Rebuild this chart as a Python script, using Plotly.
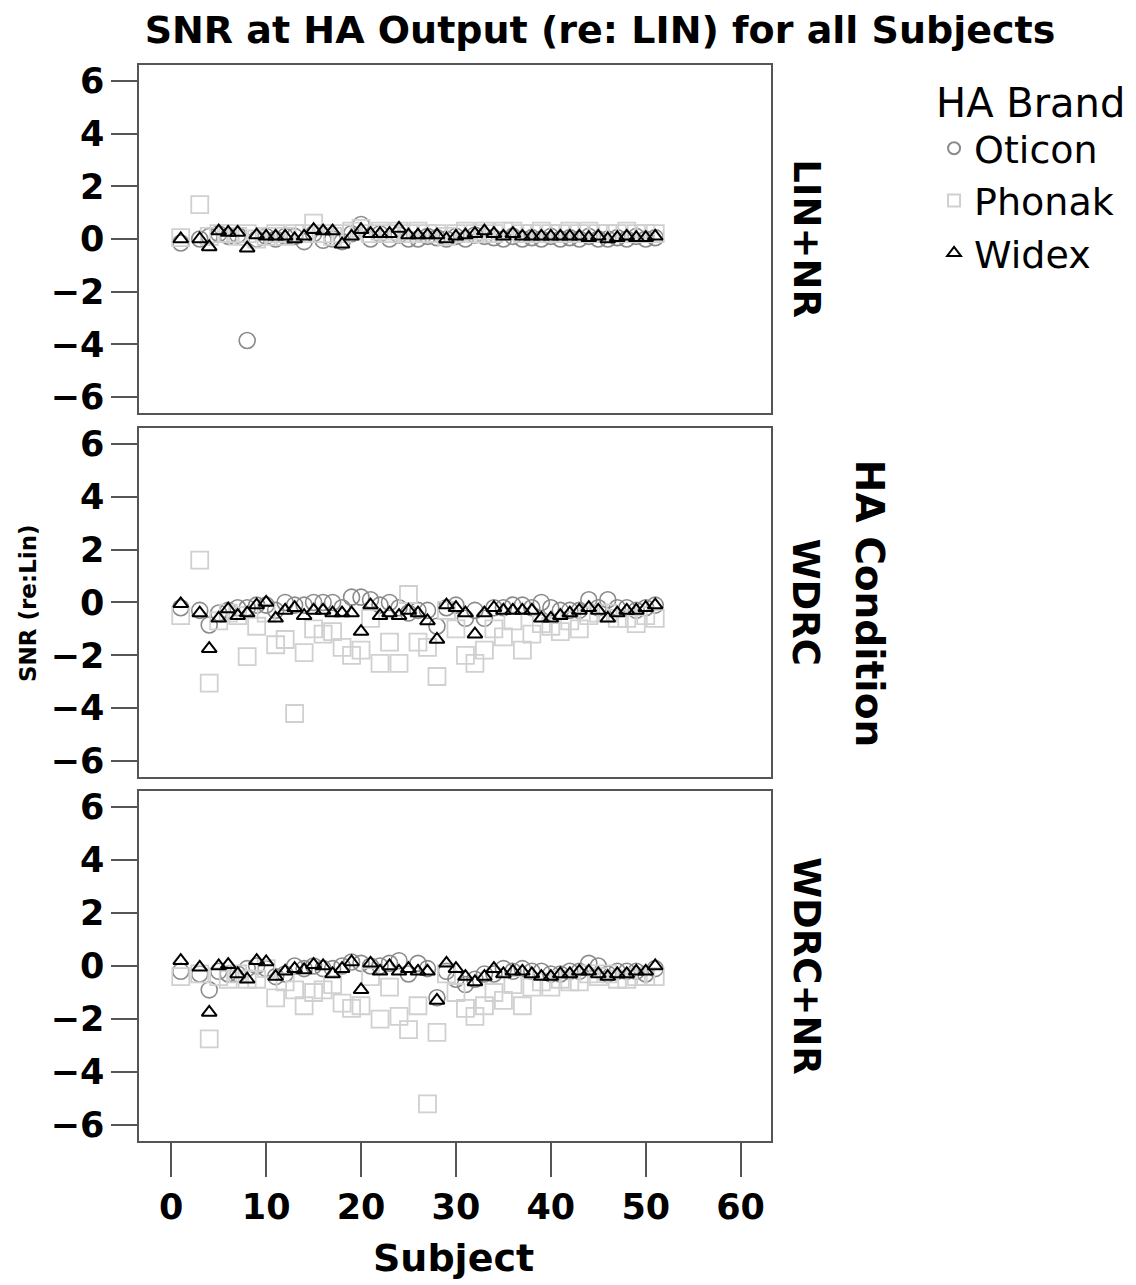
import plotly.graph_objects as go
from plotly.subplots import make_subplots

subjects = list(range(1, 52))
conditions = ["LIN+NR", "WDRC", "WDRC+NR"]
brands = ["Oticon", "Phonak", "Widex"]
N = None

# LIN+NR
lin_nr_oticon = [-0.15, N, 0.0, 0.1, 0.2, 0.1, 0.15, -3.85, 0.0, 0.1, 0.0, 0.1, 0.1, -0.1, 0.2, -0.05, 0.0, -0.1, 0.2, 0.55,
                 0.0, 0.2, 0.0, 0.15, 0.0, 0.0, 0.1, 0.05, 0.0, 0.1, 0.0, 0.15, 0.1, 0.05, 0.0, 0.1, 0.0, 0.05, 0.0, 0.1,
                 0.0, 0.05, 0.0, 0.1, 0.0, 0.0, 0.05, 0.0, 0.1, 0.0, 0.05]
lin_nr_phonak = [0.05, N, 1.3, 0.1, 0.2, 0.2, 0.1, 0.2, 0.0, 0.1, 0.2, 0.1, 0.2, 0.2, 0.6, 0.2, 0.1, 0.2, 0.3, 0.4,
                 0.2, 0.3, 0.2, 0.3, 0.2, 0.3, 0.2, 0.2, 0.1, 0.2, 0.3, 0.2, 0.3, 0.2, 0.3, 0.3, 0.2, 0.2, 0.3, 0.2,
                 0.2, 0.3, 0.2, 0.3, 0.2, 0.2, 0.2, 0.3, 0.2, 0.2, 0.2]
lin_nr_widex = [0.0, N, 0.0, -0.3, 0.3, 0.25, 0.25, -0.35, 0.15, 0.1, 0.1, 0.1, 0.0, 0.1, 0.35, 0.3, 0.3, -0.2, 0.1, 0.35,
                0.2, 0.2, 0.2, 0.4, 0.15, 0.15, 0.15, 0.15, 0.0, 0.1, 0.15, 0.2, 0.3, 0.2, 0.1, 0.2, 0.1, 0.1, 0.1, 0.1,
                0.1, 0.1, 0.1, 0.05, 0.1, 0.0, 0.05, 0.1, 0.05, 0.05, 0.1]

# WDRC
wdrc_oticon = [-0.2, N, -0.3, -0.85, -0.4, -0.3, -0.2, -0.2, -0.1, -0.1, -0.3, 0.0, -0.1, -0.1, 0.0, 0.0, 0.0, -0.2, 0.2, 0.2,
               0.1, -0.1, 0.0, -0.2, -0.4, -0.3, -0.3, -0.9, -0.2, -0.1, -0.6, -0.3, -0.6, -0.2, -0.2, -0.1, -0.1, -0.2, 0.0, -0.2,
               -0.3, -0.3, -0.3, 0.1, -0.2, 0.1, -0.2, -0.2, -0.3, -0.2, -0.1]
wdrc_phonak = [-0.5, N, 1.6, -3.05, -0.7, -0.4, -0.5, -2.05, -0.9, -0.4, -1.6, -1.4, -4.2, -1.9, -1.0, -1.2, -1.1, -1.7, -2.0, -1.8,
               -0.6, -2.3, -1.5, -2.3, 0.3, -1.5, -1.7, -2.8, -0.3, -1.0, -2.0, -2.3, -1.8, -1.0, -1.3, -0.7, -1.8, -1.2, -0.8, -0.9,
               -1.1, -0.7, -1.0, -0.5, -0.4, -0.4, -0.6, -0.6, -0.8, -0.5, -0.6]
wdrc_widex = [-0.05, N, -0.4, -1.75, -0.6, -0.25, -0.5, -0.4, -0.1, 0.0, -0.6, -0.3, -0.2, -0.5, -0.3, -0.3, -0.4, -0.4, -0.4, -1.1,
              -0.1, -0.5, -0.4, -0.5, -0.3, -0.4, -0.7, -1.4, -0.1, -0.2, -0.4, -1.2, -0.4, -0.2, -0.3, -0.3, -0.3, -0.3, -0.6, -0.6,
              -0.5, -0.4, -0.3, -0.2, -0.3, -0.6, -0.4, -0.3, -0.3, -0.2, -0.1]

# WDRC+NR
wdrc_nr_oticon = [-0.2, N, -0.3, -0.9, -0.2, -0.3, -0.3, -0.1, 0.0, -0.1, -0.4, -0.3, 0.0, -0.1, 0.0, -0.1, -0.1, 0.0, 0.15, 0.1,
                  0.0, 0.0, 0.1, 0.2, -0.3, 0.1, -0.1, -1.2, -0.2, -0.5, -0.7, -0.5, -0.3, -0.3, -0.1, -0.2, -0.1, -0.2, -0.2, -0.3,
                  -0.3, -0.2, -0.2, 0.1, 0.0, -0.3, -0.2, -0.2, -0.2, -0.3, -0.1]
wdrc_nr_phonak = [-0.4, N, -0.3, -2.75, -0.4, -0.5, -0.3, -0.5, -0.5, -0.1, -1.2, -0.6, -0.9, -1.5, -1.0, -0.9, -0.7, -1.4, -1.6, -1.5,
                  -0.4, -2.0, -0.8, -1.9, -2.4, -1.5, -5.2, -2.5, -0.3, -1.0, -1.6, -1.9, -1.5, -1.0, -1.3, -0.7, -1.5, -0.8, -0.6, -0.8,
                  -0.5, -0.6, -0.6, -0.3, -0.4, -0.3, -0.5, -0.5, -0.4, -0.4, -0.4]
wdrc_nr_widex = [0.2, N, -0.05, -1.75, 0.0, 0.05, -0.3, -0.5, 0.2, 0.15, -0.4, -0.2, -0.1, -0.15, 0.05, 0.0, -0.3, -0.1, 0.15, -0.9,
                 0.1, -0.2, 0.0, -0.2, -0.1, -0.2, -0.2, -1.3, 0.1, -0.1, -0.4, -0.6, -0.4, -0.1, -0.3, -0.2, -0.2, -0.3, -0.4, -0.4,
                 -0.3, -0.3, -0.2, -0.2, -0.3, -0.4, -0.3, -0.3, -0.2, -0.2, 0.0]

data = {
    "LIN+NR": [lin_nr_oticon, lin_nr_phonak, lin_nr_widex],
    "WDRC": [wdrc_oticon, wdrc_phonak, wdrc_widex],
    "WDRC+NR": [wdrc_nr_oticon, wdrc_nr_phonak, wdrc_nr_widex],
}

x_ticks = [0, 10, 20, 30, 40, 50, 60]
y_ticks = [-6, -4, -2, 0, 2, 4, 6]

styles = {
    "Oticon": dict(symbol="circle-open", color="#8a8a8a", size=16, line=dict(width=1.6, color="#8a8a8a")),
    "Phonak": dict(symbol="square-open", color="#d0d0d0", size=17, line=dict(width=1.8, color="#d0d0d0")),
    "Widex": dict(symbol="triangle-up-open", color="#000000", size=13, line=dict(width=2, color="#000000")),
}

FONT = "DejaVu Sans"
fig = make_subplots(rows=3, cols=1, shared_xaxes=True, vertical_spacing=0.015)

for r, cond in enumerate(conditions, start=1):
    for b, series in zip(brands, data[cond]):
        fig.add_trace(go.Scatter(
            x=subjects, y=series, mode="markers", name=b,
            legendgroup=b, showlegend=(r == 1),
            marker=styles[b],
        ), row=r, col=1)

domains = [[0.6766, 1.0], [0.3383, 0.6627], [0.0, 0.3253]]
axis_common = dict(showline=True, linecolor="#555555", linewidth=1.5, mirror=True,
                   showgrid=False, zeroline=False, ticks="outside", tickcolor="#555555", tickwidth=1.5)
tick_font = dict(family=FONT, size=35, color="#000", weight="bold")
for i in range(3):
    sx = "" if i == 0 else str(i + 1)
    fig.layout["yaxis" + sx].update(domain=domains[i], range=[-6.6, 6.6], tickvals=y_ticks, ticklen=26,
                                    tickfont=tick_font, **axis_common)
    fig.layout["xaxis" + sx].update(range=[-3.4, 63.2], tickvals=x_ticks, ticklen=34,
                                    showticklabels=(i == 2), tickfont=tick_font, **axis_common)
fig.layout.xaxis.update(ticks="")
fig.layout.xaxis2.update(ticks="")

ann = []
centers = [(d[0] + d[1]) / 2 for d in domains]
facet_font = dict(family=FONT, size=37, color="#000", weight="bold")
for cond, c in zip(conditions, centers):
    ann.append(dict(text=cond, x=1.055, y=c, xref="paper", yref="paper", textangle=90, showarrow=False,
                    font=facet_font, xanchor="center", yanchor="middle"))
ann.append(dict(text="HA Condition", x=1.157, y=0.5, xref="paper", yref="paper", textangle=90, showarrow=False,
                font=dict(family=FONT, size=39, color="#000", weight="bold"), xanchor="center", yanchor="middle"))
ann.append(dict(text="SNR (re:Lin)", x=-0.1756, y=0.5, xref="paper", yref="paper", textangle=-90, showarrow=False,
                font=dict(family=FONT, size=23, color="#000", weight="bold"), xanchor="center", yanchor="middle"))
ann.append(dict(text="Subject", x=0.498, y=-0.109, xref="paper", yref="paper", showarrow=False,
                font=dict(family=FONT, size=38, color="#000", weight="bold"), xanchor="center", yanchor="middle"))

fig.update_layout(
    width=1136, height=1285,
    margin=dict(l=131, r=373, t=57, b=152),
    paper_bgcolor="white", plot_bgcolor="white",
    title=dict(text="SNR at HA Output (re: LIN) for all Subjects", x=592 / 1136, xanchor="center",
               y=1 - 22 / 1285, yanchor="middle", yref="container",
               font=dict(family=FONT, size=38, color="#000", weight="bold")),
    legend=dict(title=dict(text="HA Brand", font=dict(family=FONT, size=40, color="#000")),
                font=dict(family=FONT, size=38, color="#000"),
                x=1.258, y=1.0, xanchor="left", yanchor="top", itemsizing="constant",
                bgcolor="rgba(0,0,0,0)", tracegroupgap=0),
    annotations=ann,
)

fig.write_html("out.html")
